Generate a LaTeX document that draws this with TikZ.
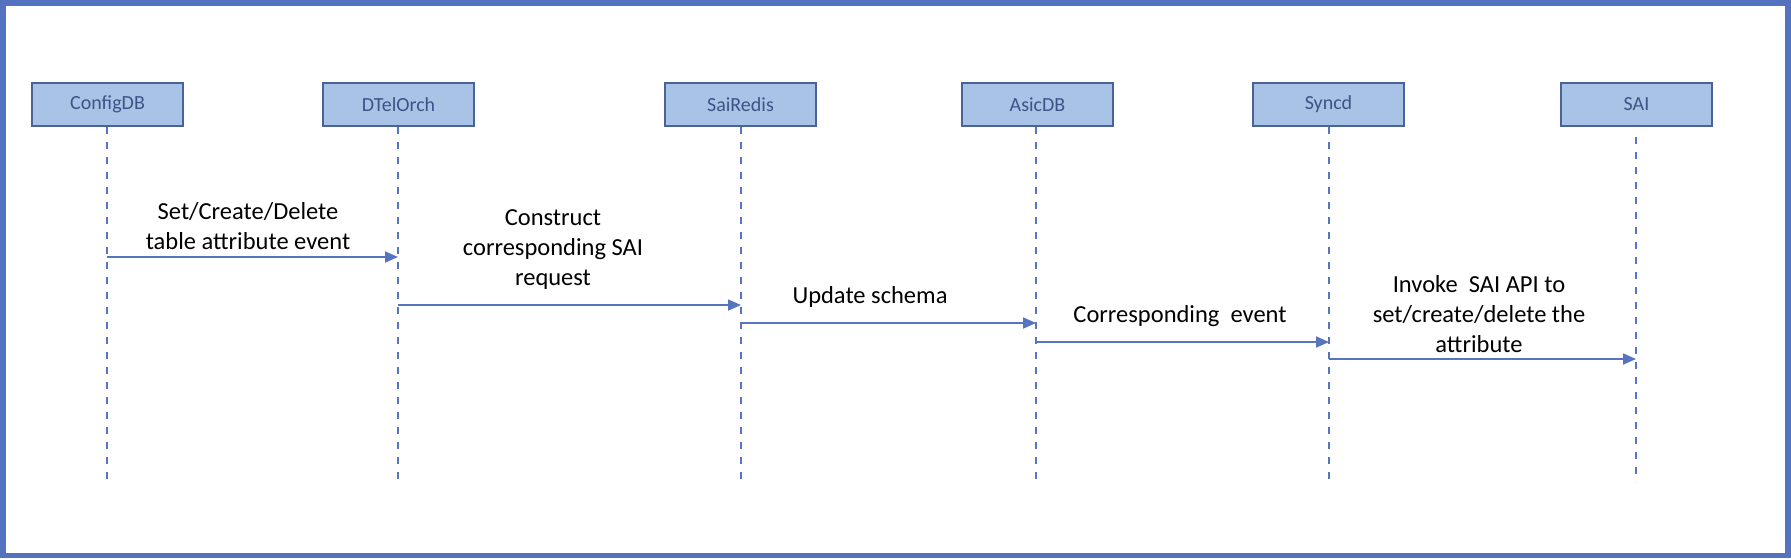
\documentclass[tikz,border=0pt]{standalone}
\usepackage{fontspec}
\setmainfont{Carlito}
\usetikzlibrary{arrows.meta}
\definecolor{framec}{HTML}{5472C0}
\definecolor{boxfill}{HTML}{A9C3E6}
\definecolor{boxdraw}{HTML}{4A6396}
\definecolor{boxtext}{HTML}{3B5488}
\definecolor{linec}{HTML}{5774C0}
\tikzset{
  x=1pt, y=-1pt,
  actor/.style={draw=boxdraw, fill=boxfill, line width=2pt, minimum width=151pt, minimum height=43pt, inner sep=0pt, text=boxtext, font=\fontsize{20}{24}\selectfont},
  lifeline/.style={draw=linec, line width=2pt, dash pattern=on 7pt off 8pt},
  msg/.style={draw=linec, line width=1.8pt, -{Triangle[length=13pt,width=11pt]}},
  lbl/.style={align=center, font=\fontsize{24.5}{30}\selectfont, inner sep=0pt, text=black}
}
\begin{document}
\begin{tikzpicture}
\useasboundingbox (0,0) rectangle (1791,558);
\draw[framec, line width=5.5pt] (3,2.75) rectangle (1788,555.25);
% actors
\node[actor] (cfg) at (107.5,104.5) {ConfigDB};
\node[actor] (dtel) at (398.5,104.5) {DTelOrch};
\node[actor] (sair) at (740.5,104.5) {SaiRedis};
\node[actor] (asic) at (1037.5,104.5) {AsicDB};
\node[actor] (sync) at (1328.5,104.5) {Syncd};
\node[actor] (sai) at (1636.5,104.5) {SAI};
% lifeline ends
\coordinate (cfgE) at (107,482);
\coordinate (dtelE) at (398,482);
\coordinate (sairE) at (741,482);
\coordinate (asicE) at (1036,482);
\coordinate (syncE) at (1329,482);
\coordinate (saiE) at (1636,482);
\coordinate (saiS) at (1636,137);
\draw[lifeline] (cfg.south -| cfgE) -- (cfgE);
\draw[lifeline] (dtel.south -| dtelE) -- (dtelE);
\draw[lifeline] (sair.south -| sairE) -- (sairE);
\draw[lifeline] (asic.south -| asicE) -- (asicE);
\draw[lifeline] (sync.south -| syncE) -- (syncE);
\draw[lifeline] (saiS) -- (saiE);
% message points
\coordinate (m1a) at (107,257); \coordinate (m1b) at (398,257);
\coordinate (m2a) at (398,305); \coordinate (m2b) at (741,305);
\coordinate (m3a) at (741,323); \coordinate (m3b) at (1036,323);
\coordinate (m4a) at (1036,342); \coordinate (m4b) at (1329,342);
\coordinate (m5a) at (1329,359); \coordinate (m5b) at (1636,359);
\draw[msg] (m1a) -- (m1b);
\draw[msg] (m2a) -- (m2b);
\draw[msg] (m3a) -- (m3b);
\draw[msg] (m4a) -- (m4b);
\draw[msg] (m5a) -- (m5b);
% labels
\node[lbl] (l1) at (248,226) {Set/Create/Delete\\table attribute event};
\node[lbl] (l2) at (553,250) {Construct\\corresponding SAI\\request};
\node[lbl] (l3) at (870,297) {Update schema};
\node[lbl] (l4) at (1180,316) {Corresponding\ \ event};
\node[lbl] (l5) at (1479,314) {Invoke\ \ SAI API to\\set/create/delete the\\attribute};
\end{tikzpicture}
\end{document}
